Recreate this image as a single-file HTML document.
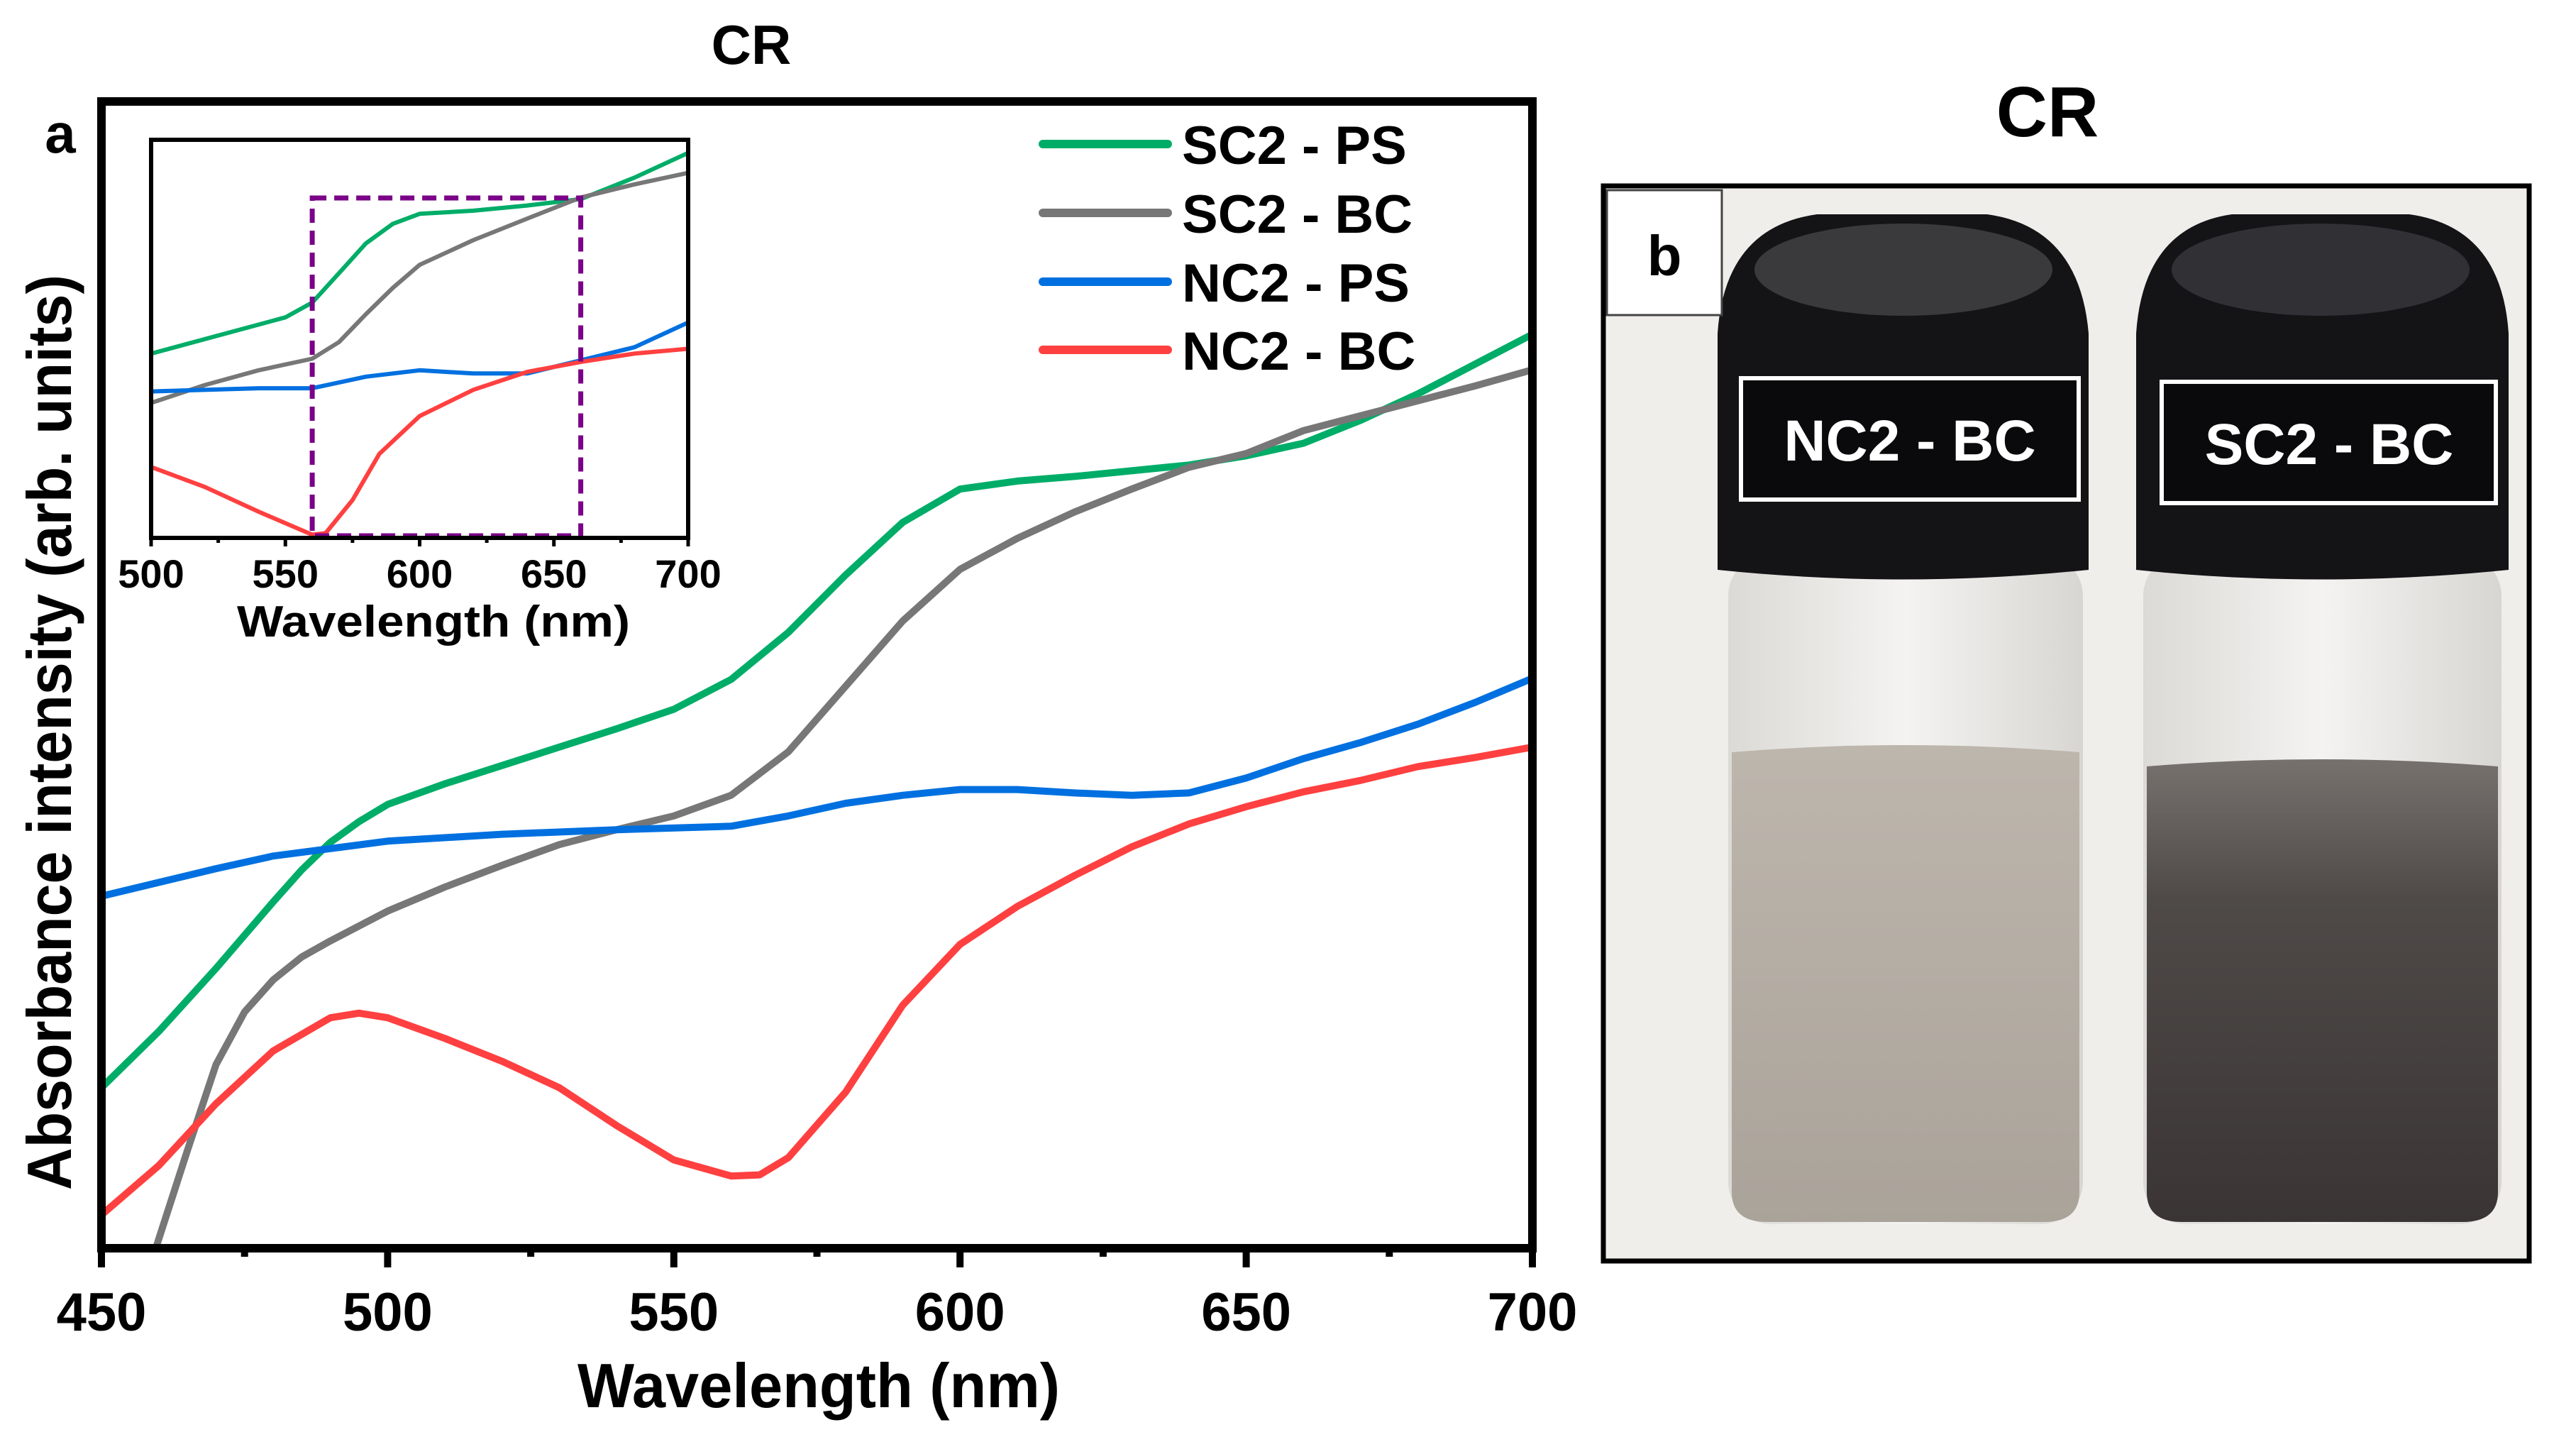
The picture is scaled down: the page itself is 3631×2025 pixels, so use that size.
<!DOCTYPE html>
<html><head><meta charset="utf-8"><style>
html,body{margin:0;padding:0;background:#fff;}
svg{display:block;font-family:"Liberation Sans",Arial,sans-serif;}
</style></head><body>
<svg id="fig" width="3631" height="2025" viewBox="0 0 3631 2025" xmlns="http://www.w3.org/2000/svg">
<defs>
<linearGradient id="liqL" x1="0" y1="0" x2="0" y2="1"><stop offset="0" stop-color="#bdb6ad"/><stop offset="1" stop-color="#aaa39a"/></linearGradient>
<linearGradient id="liqR" x1="0" y1="0" x2="0" y2="1"><stop offset="0" stop-color="#77716e"/><stop offset="0.3" stop-color="#4f4a48"/><stop offset="1" stop-color="#3a3534"/></linearGradient>
<linearGradient id="glass" x1="0" y1="0" x2="1" y2="0"><stop offset="0" stop-color="#dcdad6"/><stop offset="0.5" stop-color="#f4f3f1"/><stop offset="1" stop-color="#d8d6d2"/></linearGradient>
<clipPath id="mainClip"><rect x="143" y="143" width="2017" height="1616"/></clipPath>
<clipPath id="insetClip"><rect x="213" y="197" width="757" height="561"/></clipPath>
</defs>
<text x="1059" y="90" font-size="78" font-weight="bold" text-anchor="middle">CR</text>
<text x="85" y="215" font-size="78" font-weight="bold" text-anchor="middle">a</text>
<g id="mainPlot"></g>
<text transform="translate(100,1032) rotate(-90)" font-size="88" font-weight="bold" text-anchor="middle" textLength="1290" lengthAdjust="spacingAndGlyphs">Absorbance intensity (arb. units)</text>
<text x="1154" y="1983" font-size="88" font-weight="bold" text-anchor="middle" textLength="680" lengthAdjust="spacingAndGlyphs">Wavelength (nm)</text>
<g id="legend"></g>
<g id="insetPlot"></g>
<text x="611" y="897" font-size="62" font-weight="bold" text-anchor="middle" textLength="554" lengthAdjust="spacingAndGlyphs">Wavelength (nm)</text>

<!-- Panel b -->
<text x="2886" y="192" font-size="100" font-weight="bold" text-anchor="middle">CR</text>
<g>
<rect x="2260" y="262" width="1305" height="1515" fill="#f0eeea"/>
<g>
<rect x="2436" y="780" width="500" height="945" rx="60" fill="url(#glass)"/>
<path d="M2441 1060 Q2683 1040 2931 1060 L2931 1680 Q2931 1722 2881 1722 L2491 1722 Q2441 1722 2441 1680 Z" fill="url(#liqL)"/>
<path d="M2421 803 L2421 470 Q2431 320 2561 302 L2801 302 Q2931 320 2944 470 L2944 803 Q2683 830 2421 803 Z" fill="#141316"/>
<ellipse cx="2683" cy="380" rx="210" ry="65" fill="#3a393c"/>
<rect x="2454" y="533" width="476" height="171" fill="#0a0a0c" stroke="#fff" stroke-width="6"/>
<text x="2692" y="649" font-size="82" font-weight="bold" fill="#fff" text-anchor="middle">NC2 - BC</text>
</g>
<g>
<rect x="3021" y="780" width="505" height="945" rx="60" fill="url(#glass)"/>
<path d="M3026 1080 Q3271 1060 3521 1080 L3521 1680 Q3521 1722 3471 1722 L3076 1722 Q3026 1722 3026 1680 Z" fill="url(#liqR)"/>
<path d="M3011 803 L3011 470 Q3021 320 3146 302 L3396 302 Q3526 320 3536 470 L3536 803 Q3271 830 3011 803 Z" fill="#141316"/>
<ellipse cx="3271" cy="380" rx="210" ry="65" fill="#303035"/>
<rect x="3047" y="538" width="471" height="171" fill="#0a0a0c" stroke="#fff" stroke-width="6"/>
<text x="3283" y="654" font-size="82" font-weight="bold" fill="#fff" text-anchor="middle">SC2 - BC</text>
</g>
<rect x="2265" y="268" width="162" height="176" fill="#fff" stroke="#444" stroke-width="3"/>
<text x="2346" y="388" font-size="80" font-weight="bold" text-anchor="middle">b</text>
<rect x="2260" y="262" width="1305" height="1515" fill="none" stroke="#000" stroke-width="7"/>
</g>
</svg>
<script>
// ---------- main chart data ----------
const seriesNames = ["SC2 - PS","SC2 - BC","NC2 - PS","NC2 - BC"];
const seriesColors = ["#00ad68","#777777","#0070e0","#ff4040"];
const xTicks = [450,500,550,600,650,700];
const insetTicks = [500,550,600,650,700];
const greenX = [450,460,470,480,485,490,495,500,510,520,530,540,550,560,570,580,590,600,610,620,630,640,650,660,670,680,690,700];
const greenY = [14.0,18.9,24.4,30.2,33.0,35.4,37.2,38.7,40.5,42.1,43.7,45.3,47.0,49.6,53.7,58.7,63.3,66.2,66.9,67.3,67.8,68.3,69.1,70.2,72.2,74.5,77.1,79.7];
const greyX = [459.5,465,470,475,480,485,490,500,510,520,530,540,550,560,570,580,590,600,610,620,630,640,650,660,670,680,690,700];
const greyY = [0,8.5,16.0,20.6,23.4,25.4,26.8,29.4,31.5,33.4,35.2,36.5,37.7,39.5,43.3,49.0,54.7,59.2,61.9,64.2,66.2,68.1,69.3,71.3,72.6,73.9,75.2,76.6];
const blueX = [450,460,470,480,500,520,540,560,570,580,590,600,610,620,630,640,650,660,670,680,690,700];
const blueY = [30.7,31.9,33.1,34.2,35.5,36.1,36.5,36.8,37.7,38.8,39.5,40.0,40.0,39.7,39.5,39.7,41.0,42.7,44.1,45.7,47.6,49.7];
const redX = [450,460,470,480,490,495,500,510,520,530,540,550,560,565,570,580,590,600,610,620,630,640,650,660,670,680,690,700];
const redY = [2.9,7.2,12.6,17.2,20.1,20.5,20.1,18.3,16.3,14.0,10.7,7.7,6.3,6.4,7.9,13.6,21.2,26.5,29.8,32.5,35.0,37.0,38.5,39.8,40.8,42.0,42.8,43.7];
// ---------- inset data ----------
const inGreenX = [500,550,560,570,580,590,600,620,640,660,680,700];
const inGreenY = [46.3,55.4,59.1,66.5,74,78.9,81.4,82.2,83.5,85.1,90.5,96.7];
const inGreyX = [500,520,540,560,570,580,590,600,620,640,660,680,700];
const inGreyY = [33.9,38.4,42.1,45,49.2,56.2,62.8,68.6,74.8,80.2,85.5,88.8,91.7];
const inBlueX = [500,540,560,580,600,620,640,660,680,700];
const inBlueY = [36.8,37.6,37.6,40.5,42.1,41.3,41.3,44.6,47.9,54.1];
const inRedX = [500,520,540,560,565,575,585,600,620,640,660,680,700];
const inRedY = [17.8,12.8,6.6,0.8,1.2,9.5,21.1,30.6,37.2,41.7,44.2,46.3,47.5];
const boxRange = [560,660];

const NS="http://www.w3.org/2000/svg";
function mk(tag,attrs,parent){const e=document.createElementNS(NS,tag);for(const k in attrs)e.setAttribute(k,attrs[k]);parent.appendChild(e);return e;}

// main axes
const M={l:143,r:2160,t:143,b:1759,x0:450,x1:700,y0:0,y1:100};
const mx=v=>M.l+(v-M.x0)/(M.x1-M.x0)*(M.r-M.l);
const my=v=>M.b-(v-M.y0)/(M.y1-M.y0)*(M.b-M.t);
const main=document.getElementById('mainPlot');
const cg=mk('g',{'clip-path':'url(#mainClip)'},main);


const mainSeries=[[greenX,greenY],[greyX,greyY],[blueX,blueY],[redX,redY]];
const keys=['sc2-ps','sc2-bc','nc2-ps','nc2-bc'];
mainSeries.forEach((s,i)=>{
  const d=s[0].map((x,j)=>(j?'L':'M')+mx(x).toFixed(1)+' '+my(s[1][j]).toFixed(1)).join(' ');
  const p=mk('path',{d:d,fill:'none',stroke:seriesColors[i],'stroke-width':10,'stroke-linejoin':'round'},cg);
  
  
});
const frame=mk('rect',{x:M.l,y:M.t,width:M.r-M.l,height:M.b-M.t,fill:'none',stroke:'#000','stroke-width':12},main);


for(let v=M.x0;v<=M.x1;v+=25){
  const major=(v%50===0);
  const t=mk('line',{x1:mx(v),x2:mx(v),y1:M.b,y2:M.b+(major?27:12),stroke:'#000','stroke-width':10},main);
  
  
}
xTicks.forEach(v=>{
  const t=mk('text',{x:mx(v),y:1875,'font-size':76,'font-weight':'bold','text-anchor':'middle'},main);
  t.textContent=v;
  
  
});

// legend
const lg=document.getElementById('legend');
const legY=[203,300,397,493];
seriesNames.forEach((n,i)=>{
  const l=mk('line',{x1:1470,x2:1646,y1:legY[i],y2:legY[i],stroke:seriesColors[i],'stroke-width':12,'stroke-linecap':'round'},lg);
  
  
  const t=mk('text',{x:1666,y:legY[i]+28,'font-size':76,'font-weight':'bold'},lg);
  t.textContent=n;
  
  
});

// inset
const I={l:213,r:970,t:197,b:758,x0:500,x1:700};
const ix=v=>I.l+(v-I.x0)/(I.x1-I.x0)*(I.r-I.l);
const iy=v=>I.b-v/100*(I.b-I.t);
const ins=document.getElementById('insetPlot');
const bg=mk('rect',{x:I.l,y:I.t,width:I.r-I.l,height:I.b-I.t,fill:'#fff'},ins);


const ig=mk('g',{'clip-path':'url(#insetClip)'},ins);


const insetSeries=[[inGreenX,inGreenY],[inGreyX,inGreyY],[inBlueX,inBlueY],[inRedX,inRedY]];
insetSeries.forEach((s,i)=>{
  const d=s[0].map((x,j)=>(j?'L':'M')+ix(x).toFixed(1)+' '+iy(s[1][j]).toFixed(1)).join(' ');
  const p=mk('path',{d:d,fill:'none',stroke:seriesColors[i],'stroke-width':6,'stroke-linejoin':'round'},ig);
  
  
});
const box=mk('rect',{x:ix(boxRange[0]),y:279,width:ix(boxRange[1])-ix(boxRange[0]),height:755-279,fill:'none',stroke:'#7a0088','stroke-width':7,'stroke-dasharray':'20 11'},ins);


const iframe=mk('rect',{x:I.l,y:I.t,width:I.r-I.l,height:I.b-I.t,fill:'none',stroke:'#000','stroke-width':6},ins);


for(let v=I.x0;v<=I.x1;v+=25){
  const major=(v%50===0);
  const t=mk('line',{x1:ix(v),x2:ix(v),y1:I.b,y2:I.b+(major?12:7),stroke:'#000','stroke-width':5},ins);
  
  
}
insetTicks.forEach(v=>{
  const t=mk('text',{x:ix(v),y:828,'font-size':56,'font-weight':'bold','text-anchor':'middle'},ins);
  t.textContent=v;
  
  
});
</script>
</body></html>
